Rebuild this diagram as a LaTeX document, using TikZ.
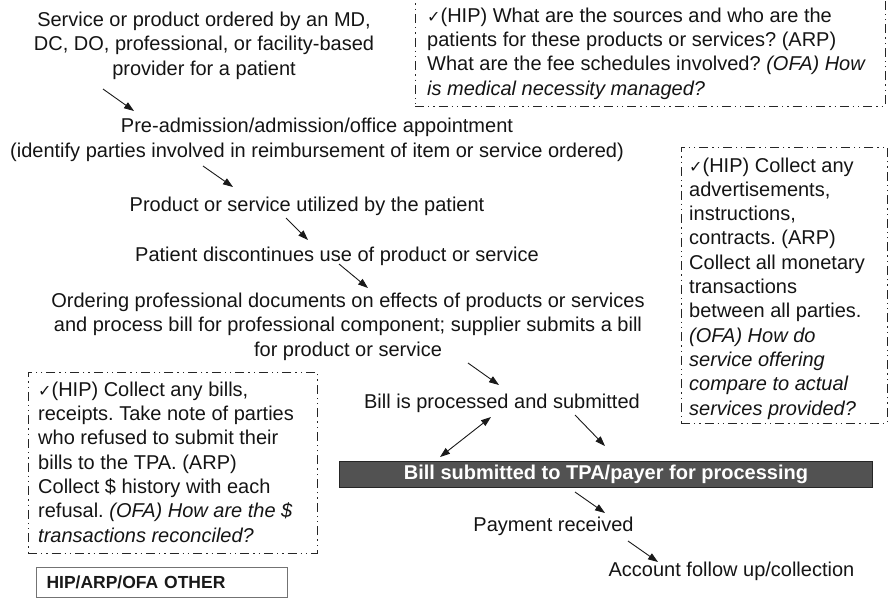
\documentclass[tikz,border=0pt]{standalone}
\usepackage{fontspec}
\setmainfont{Liberation Sans}
\newfontfamily\symfont{DejaVu Sans}
\usetikzlibrary{arrows.meta,fit}
\frenchspacing
% check mark used at the start of each audit note
\newcommand{\chk}{{\symfont\fontsize{16}{16}\selectfont ✓}}

\tikzset{
  txt/.style={font=\fontsize{20}{24.3}\selectfont, inner sep=0pt, text=black!92},
  note/.style={txt, align=left, anchor=base west},
  arr/.style={-{Triangle[length=10pt,width=7pt]}, line width=0.9pt, draw=black!90},
  darr/.style={{Triangle[length=10pt,width=7pt]}-{Triangle[length=10pt,width=7pt]}, line width=0.9pt, draw=black!90},
  dframe/.style={draw=black!85, line width=1pt, inner sep=0pt,
    dash pattern=on 9pt off 4pt on 1.3pt off 4pt on 1.3pt off 4pt},
  bar/.style={fill=black!68, draw=black!85, line width=1pt, text=white,
    font=\fontsize{20}{24}\selectfont\bfseries, inner sep=0pt},
  legendbox/.style={draw=black!55, line width=1pt, text=black!90,
    font=\fontsize{17.5}{20}\selectfont\bfseries, align=left, inner xsep=10pt, inner ysep=0pt}
}

\begin{document}
\begin{tikzpicture}[x=1pt,y=-1pt]
\useasboundingbox (0,0) rectangle (892,598);

% process steps (multi-line nodes are placed by the baseline of their last line)
\node[txt, align=center, anchor=base] (order) at (204,75)
  {Service or product ordered by an MD,\\DC, DO, professional, or facility-based\\provider for a patient};
\node[txt, align=center, anchor=base] (admit) at (317,157)
  {Pre-admission/admission/office appointment\\(identify parties involved in reimbursement of item or service ordered)};
\node[txt, anchor=base] (used) at (307,211) {Product or service utilized by the patient};
\node[txt, anchor=base] (stop) at (337,261) {Patient discontinues use of product or service};
\node[txt, align=center, anchor=base] (doc) at (348,356)
  {Ordering professional documents on effects of products or services\\and process bill for professional component; supplier submits a bill\\for product or service};
\node[txt, anchor=base] (proc) at (502,408) {Bill is processed and submitted};
\node[bar, minimum width=533pt, minimum height=26pt, anchor=north west] (tpa) at (339,461)
  {Bill submitted to TPA/payer for processing};
\node[txt, anchor=base] (pay) at (553.5,531) {Payment received};
\node[txt, anchor=base] (acct) at (731.5,576) {Account follow up/collection};

% audit notes
\node[note] (q1) at (427,95)
  {\chk(HIP) What are the sources and who are the\\
   patients for these products or services? (ARP)\\
   What are the fee schedules involved? \textit{(OFA) How}\\
   \textit{is medical necessity managed?}};
\node[dframe, fit={(415,-1) (885,106)}] (q1box) {};

\node[note] (q2) at (689,415)
  {\chk(HIP) Collect any\\advertisements,\\instructions,\\contracts. (ARP)\\Collect all monetary\\transactions\\between all parties.\\
   \textit{(OFA) How do}\\\textit{service offering}\\\textit{compare to actual}\\\textit{services provided?}};
\node[dframe, fit={(681,147) (887,423)}] (q2box) {};

\node[note] (q3) at (38,542)
  {\chk(HIP) Collect any bills,\\receipts. Take note of parties\\who refused to submit their\\bills to the TPA. (ARP)\\Collect \$ history with each\\
   refusal. \textit{(OFA) How are the \$}\\\textit{transactions reconciled?}};
\node[dframe, fit={(28,372) (317,553)}] (q3box) {};

\node[legendbox, text width=231pt, minimum height=30pt, anchor=north west] (other) at (36,567)
  {HIP/ARP/OFA OTHER};

% arrow end points between the steps
\coordinate (a1s) at (103,89);   \coordinate (a1e) at (134,111);
\coordinate (a2s) at (203,166);  \coordinate (a2e) at (233,187);
\coordinate (a3s) at (286,218);  \coordinate (a3e) at (308,240);
\coordinate (a4s) at (339,264);  \coordinate (a4e) at (368,288);
\coordinate (a5s) at (468,363);  \coordinate (a5e) at (499,385);
\coordinate (a6s) at (440,457);  \coordinate (a6e) at (491,417);
\coordinate (a7s) at (575,415);  \coordinate (a7e) at (605,446);
\coordinate (a8s) at (575,492);  \coordinate (a8e) at (605,513);
\coordinate (a9s) at (628,541);  \coordinate (a9e) at (658,562);

\draw[arr] (a1s) -- (a1e);
\draw[arr] (a2s) -- (a2e);
\draw[arr] (a3s) -- (a3e);
\draw[arr] (a4s) -- (a4e);
\draw[arr] (a5s) -- (a5e);
\draw[darr] (a6s) -- (a6e);
\draw[arr] (a7s) -- (a7e);
\draw[arr] (a8s) -- (a8e);
\draw[arr] (a9s) -- (a9e);
\end{tikzpicture}
\end{document}
